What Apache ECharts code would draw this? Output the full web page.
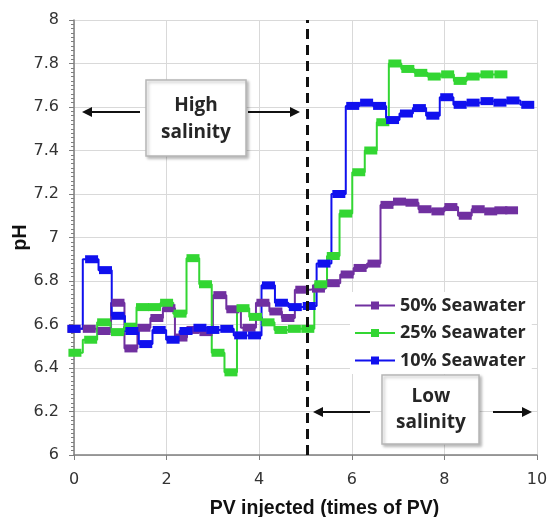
<!DOCTYPE html>
<html>
<head>
<meta charset="utf-8">
<script src="https://cdn.jsdelivr.net/npm/echarts@6/dist/echarts.min.js"></script>
<style>html,body{margin:0;padding:0;background:#fff;}#chart{width:547px;height:517px;}</style>
</head>
<body>
<div id="chart"></div>
<script>
// ---- data ----
const seriesNames = ['50% Seawater', '25% Seawater', '10% Seawater'];

const xPurple = [0.0, 0.33, 0.65, 0.95, 1.23, 1.51, 1.79, 2.05, 2.31, 2.57, 2.85, 3.15, 3.43, 3.78, 4.08, 4.36, 4.62, 4.92, 5.28, 5.6, 5.9, 6.18, 6.48, 6.76, 7.03, 7.3, 7.58, 7.86, 8.14, 8.45, 8.73, 9.0, 9.22, 9.45];
const pHPurple = [6.58, 6.58, 6.57, 6.70, 6.49, 6.585, 6.63, 6.675, 6.54, 6.575, 6.565, 6.735, 6.67, 6.585, 6.70, 6.66, 6.63, 6.76, 6.765, 6.79, 6.83, 6.86, 6.88, 7.15, 7.165, 7.16, 7.13, 7.12, 7.14, 7.10, 7.13, 7.12, 7.125, 7.125];

const xGreen = [0.02, 0.36, 0.64, 0.94, 1.22, 1.48, 1.74, 2.0, 2.29, 2.57, 2.84, 3.11, 3.39, 3.65, 3.92, 4.19, 4.47, 4.76, 5.05, 5.33, 5.6, 5.87, 6.15, 6.41, 6.67, 6.93, 7.21, 7.49, 7.78, 8.07, 8.34, 8.62, 8.92, 9.22];
const pHGreen = [6.47, 6.53, 6.61, 6.565, 6.59, 6.68, 6.68, 6.70, 6.65, 6.905, 6.785, 6.47, 6.38, 6.675, 6.635, 6.61, 6.575, 6.58, 6.58, 6.785, 6.915, 7.11, 7.30, 7.40, 7.53, 7.80, 7.775, 7.757, 7.74, 7.75, 7.72, 7.74, 7.75, 7.75];

const xBlue = [0.0, 0.38, 0.68, 0.95, 1.25, 1.55, 1.84, 2.14, 2.42, 2.72, 3.0, 3.3, 3.6, 3.9, 4.2, 4.48, 4.78, 5.08, 5.4, 5.72, 6.02, 6.32, 6.6, 6.88, 7.18, 7.46, 7.75, 8.05, 8.34, 8.62, 8.92, 9.2, 9.48, 9.8];
const pHBlue = [6.58, 6.90, 6.85, 6.64, 6.57, 6.51, 6.575, 6.53, 6.57, 6.585, 6.575, 6.58, 6.55, 6.55, 6.78, 6.70, 6.68, 6.685, 6.88, 7.20, 7.605, 7.62, 7.605, 7.54, 7.57, 7.595, 7.56, 7.645, 7.61, 7.62, 7.627, 7.62, 7.63, 7.61];

const boundaryPV = 5.04;
const xTicks = [0, 2, 4, 6, 8, 10];
const yTicks = [6, 6.2, 6.4, 6.6, 6.8, 7, 7.2, 7.4, 7.6, 7.8, 8];
const xTitle = 'PV injected (times of PV)';
const yTitle = 'pH';
const highLabel = ['High', 'salinity'];
const lowLabel = ['Low', 'salinity'];

// ---- chart ----
const colors = ['#7030a0', '#33d633', '#1010ee'];
const chart = echarts.init(document.getElementById('chart'), null, {renderer: 'canvas'});

function zip(xs, ys) { return xs.map((x, i) => [x, ys[i]]); }

function mkSeries(name, xs, ys, color, extra) {
  return Object.assign({
    name: name,
    type: 'line',
    data: zip(xs, ys),
    step: 'middle',
    symbol: 'rect',
    symbolSize: [13, 8],
    showAllSymbol: true,
    lineStyle: {color: color, width: 2},
    itemStyle: {color: color},
    emphasis: {disabled: true},
    animation: false
  }, extra || {});
}

function arrow(x1, y1, x2, y2) {
  const dir = Math.sign(x2 - x1);
  const L = 10, W = 5;
  return [
    {type: 'line', shape: {x1: x1, y1: y1, x2: x2 - dir * L * 0.8, y2: y2}, style: {stroke: '#111', lineWidth: 2}, z: 100},
    {type: 'polygon', shape: {points: [[x2, y2], [x2 - dir * L, y2 - W], [x2 - dir * L, y2 + W]]}, style: {fill: '#111'}, z: 100}
  ];
}

function box(x, y, w, h, lines, cx, ys) {
  const els = [{
    type: 'rect', shape: {x: x, y: y, width: w, height: h},
    style: {fill: '#fff', stroke: '#b5b5b5', lineWidth: 1.5, shadowBlur: 3, shadowOffsetX: 2, shadowOffsetY: 2, shadowColor: 'rgba(0,0,0,0.25)'},
    z: 100
  }];
  lines.forEach((t, i) => {
    els.push({type: 'text', x: cx, y: ys[i], style: {text: t, font: 'bold 19px "Open Sans"', fill: '#262626', align: 'center', verticalAlign: 'middle'}, z: 101});
  });
  return els;
}

const graphics = [].concat(
  arrow(140, 112, 82, 112),
  arrow(248, 112, 300, 112),
  box(146, 80, 100, 76, highLabel, 196, [106, 133]),
  arrow(370, 412, 313, 412),
  arrow(493, 412, 532, 412),
  box(382, 375, 97, 69, lowLabel, 431, [397, 423])
);

const option = {
  backgroundColor: '#fff',
  animation: false,
  color: colors,
  grid: {left: 74, right: 10, top: 20, bottom: 62, containLabel: false, outerBoundsMode: 'none'},
  xAxis: {
    type: 'value', min: xTicks[0], max: xTicks[xTicks.length - 1], interval: 2,
    name: xTitle, nameLocation: 'middle', nameGap: 44,
    nameTextStyle: {fontFamily: 'Liberation Sans', fontWeight: 'bold', fontSize: 19.5, color: '#111', padding: [0, 0, 0, 38]},
    axisLine: {show: true, lineStyle: {color: '#7f7f7f', width: 1.5}},
    axisTick: {show: true, length: 5, lineStyle: {color: '#7f7f7f'}},
    axisLabel: {margin: 17, fontFamily: 'DejaVu Sans', fontSize: 16, color: '#333'},
    splitLine: {show: true, lineStyle: {color: '#d9d9d9', width: 1}}
  },
  yAxis: {
    type: 'value', min: yTicks[0], max: yTicks[yTicks.length - 1], interval: 0.2,
    name: yTitle, nameLocation: 'middle', nameGap: 43, nameRotate: 90, nameMoveOverlap: false,
    nameTextStyle: {fontFamily: 'Liberation Sans', fontWeight: 'bold', fontSize: 19.5, color: '#111'},
    axisLine: {show: true, lineStyle: {color: '#7f7f7f', width: 1.5}},
    axisTick: {show: true, length: 5, lineStyle: {color: '#7f7f7f'}},
    minorTick: {show: true, splitNumber: 10, length: 3, lineStyle: {color: '#7f7f7f'}},
    axisLabel: {margin: 15, fontFamily: 'DejaVu Sans', fontSize: 16, color: '#333',
      formatter: v => String(Math.round(v * 10) / 10)},
    splitLine: {show: true, lineStyle: {color: '#d9d9d9', width: 1}}
  },
  legend: {
    orient: 'vertical', left: 350, top: 292,
    backgroundColor: '#fff', padding: [3, 6, 3, 4],
    itemWidth: 40, itemHeight: 10, itemGap: 6.5,
    textStyle: {fontFamily: 'Open Sans', fontWeight: 'bold', fontSize: 18, color: '#262626', lineHeight: 21},
    data: seriesNames
  },
  series: [
    mkSeries(seriesNames[0], xPurple, pHPurple, colors[0]),
    mkSeries(seriesNames[1], xGreen, pHGreen, colors[1]),
    mkSeries(seriesNames[2], xBlue, pHBlue, colors[2], {
      markLine: {
        silent: true, symbol: ['none', 'none'], label: {show: false},
        lineStyle: {color: '#111', type: [10, 6], width: 3},
        data: [{xAxis: boundaryPV}]
      }
    })
  ],
  graphic: graphics
};
chart.setOption(option);
</script>
</body>
</html>
